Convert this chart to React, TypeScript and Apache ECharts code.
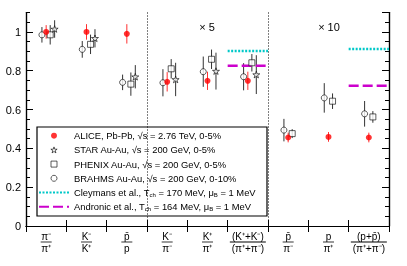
import React, { useEffect, useRef } from 'react';
import * as echarts from 'echarts';

const FONT = '"Liberation Sans", Arial, Helvetica, sans-serif';

// x-axis category labels (fractions)
const numerators = ['π⁻', 'K⁻', 'p̄', 'K⁻', 'K⁺', '(K⁺+K⁻)', 'p̄', 'p', '(p+p̄)'];
const denominators = ['π⁺', 'K⁺', 'p', 'π⁻', 'π⁺', '(π⁺+π⁻)', 'π⁻', 'π⁺', '(π⁺+π⁻)'];
const categories = numerators.map((n, i) => `${n}/${denominators[i]}`);

// series values and errors (ratios; kaon ratios ×5, proton ratios ×10)
const aliceValues = [1.0, 1.0, 0.99, 0.743, 0.748, 0.748, 0.456, 0.459, 0.456];
const aliceErrors = [0.035, 0.04, 0.05, 0.05, 0.047, 0.047, 0.025, 0.025, 0.025];
const starValues = [1.015, 0.967, 0.769, 0.755, 0.798, 0.78, null, null, null];
const starErrors = [0.045, 0.047, 0.06, 0.086, 0.095, 0.1, null, null, null];
const phenixValues = [0.985, 0.936, 0.731, 0.81, 0.859, 0.841, 0.476, 0.643, 0.562];
const phenixErrors = [0.05, 0.05, 0.06, 0.05, 0.05, 0.045, 0.023, 0.04, 0.03];
const brahmsValues = [0.985, 0.91, 0.74, 0.738, 0.795, 0.769, 0.494, 0.66, 0.578];
const brahmsErrors = [0.04, 0.043, 0.04, 0.07, 0.078, 0.07, 0.058, 0.076, 0.066];
const cleymansValues = [null, null, null, null, null, 0.902, null, null, 0.912];
const andronicValues = [null, null, null, null, null, 0.826, null, null, 0.722];

const NAMES = {
  alice: 'ALICE, Pb-Pb, √s = 2.76 TeV, 0-5%',
  star: 'STAR Au-Au, √s = 200 GeV, 0-5%',
  phenix: 'PHENIX Au-Au, √s = 200 GeV, 0-5%',
  brahms: 'BRAHMS Au-Au, √s = 200 GeV, 0-10%',
  cleymans: 'Cleymans et al., Tch = 170 MeV, μB = 1 MeV',
  andronic: 'Andronic et al., Tch = 164 MeV, μB = 1 MeV',
};
const RICH_NAMES: Record<string, string> = {
  [NAMES.cleymans]: 'Cleymans et al., T{sub|ch} = 170 MeV, μ{sub|B} = 1 MeV',
  [NAMES.andronic]: 'Andronic et al., T{sub|ch} = 164 MeV, μ{sub|B} = 1 MeV',
};

const STAR_PATH =
  'path://M0,-10L2.245,-3.09L9.51,-3.09L3.633,1.18L5.878,8.09L0,3.82L-5.878,8.09L-3.633,1.18L-9.51,-3.09L-2.245,-3.09Z';
const SQUARE_PATH = 'path://M0,0L10,0L10,10L0,10Z';

const OFF = { brahms: -0.105, alice: 0, phenix: 0.1, star: 0.21 };

function points(values: (number | null)[], off: number) {
  const out: number[][] = [];
  values.forEach((v, i) => {
    if (v != null) out.push([i + 0.5 + off, v]);
  });
  return out;
}
function bars(values: (number | null)[], errs: (number | null)[], off: number) {
  const out: number[][] = [];
  values.forEach((v, i) => {
    if (v != null && errs[i] != null) out.push([i + 0.5 + off, v, errs[i] as number]);
  });
  return out;
}
function modelLine(values: (number | null)[]) {
  const out: (number | null)[][] = [];
  values.forEach((v, i) => {
    if (v != null) {
      out.push([i, v], [i + 1, v], [i + 1, null]);
    }
  });
  return out;
}

function errSeries(id: string, values: (number | null)[], errs: (number | null)[], off: number, color: string) {
  return {
    type: 'custom',
    name: 'err-' + id,
    xAxisIndex: 1,
    yAxisIndex: 0,
    silent: true,
    z: 3,
    encode: { x: 0, y: 1 },
    data: bars(values, errs, off),
    renderItem: (_p: any, api: any) => {
      const x = api.value(0);
      const y = api.value(1);
      const e = api.value(2);
      const a = api.coord([x, y + e]);
      const b = api.coord([x, y - e]);
      return {
        type: 'line',
        shape: { x1: a[0], y1: a[1], x2: b[0], y2: b[1] },
        style: { stroke: color, lineWidth: 1 },
      };
    },
  };
}

export default function App() {
  const ref = useRef<HTMLDivElement>(null);
  useEffect(() => {
    if (!ref.current) return;
    const chart = echarts.init(ref.current, undefined, { renderer: 'svg' });
    const axisLine = { show: true, lineStyle: { color: '#000', width: 1.2 } };
    const hiddenSymbol = { opacity: 0, color: 'transparent', borderWidth: 0 };
    const option: any = {
      animation: false,
      textStyle: { fontFamily: FONT },
      grid: { left: 26, right: 18, top: 12.5, bottom: 40, containLabel: false },
      xAxis: [
        {
          type: 'category',
          data: categories,
          position: 'bottom',
          boundaryGap: true,
          axisLine,
          axisTick: { show: true, inside: true, length: 6, interval: 0, lineStyle: { color: '#000' } },
          splitLine: { show: false },
          axisLabel: {
            interval: 0,
            margin: 5,
            color: '#000',
            formatter: (_v: string, i: number) =>
              `{n|${numerators[i]}}\n{${numerators[i].length > 3 ? 'lw' : 'ls'}| }\n{d|${denominators[i]}}`,
            rich: {
              n: { fontSize: 10, lineHeight: 10, fontFamily: FONT, color: '#000', align: 'center' },
              d: { fontSize: 10, lineHeight: 11, fontFamily: FONT, color: '#000', align: 'center' },
              ls: { width: 11, height: 0.8, lineHeight: 2, fontSize: 1, backgroundColor: '#000', align: 'center' },
              lw: { width: 36, height: 0.8, lineHeight: 2, fontSize: 1, backgroundColor: '#000', align: 'center' },
            },
          },
        },
        {
          type: 'value',
          min: 0,
          max: 9,
          interval: 3,
          position: 'bottom',
          axisLine: { show: false },
          axisTick: { show: false },
          axisLabel: { show: false },
          splitLine: { show: true, lineStyle: { type: [1, 2], color: '#000', width: 1 } },
        },
        {
          type: 'category',
          data: categories,
          position: 'top',
          boundaryGap: true,
          axisLine,
          axisTick: { show: true, inside: true, length: 6, interval: 0, lineStyle: { color: '#000' } },
          axisLabel: { show: false },
          splitLine: { show: false },
        },
      ],
      yAxis: [
        {
          type: 'value',
          position: 'left',
          min: 0,
          max: 1.1,
          interval: 0.2,
          axisLine,
          axisTick: { show: true, inside: true, length: 7, lineStyle: { color: '#000' } },
          axisLabel: { color: '#000', fontSize: 11, fontFamily: FONT, margin: 5, showMaxLabel: false },
          splitLine: { show: false },
        },
        {
          type: 'value',
          position: 'left',
          min: 0,
          max: 1.1,
          interval: 0.05,
          axisLine,
          axisTick: { show: true, inside: true, length: 4, lineStyle: { color: '#000' } },
          axisLabel: { show: false },
          splitLine: { show: false },
        },
        {
          type: 'value',
          position: 'right',
          min: 0,
          max: 1.1,
          interval: 0.2,
          axisLine,
          axisTick: { show: true, inside: true, length: 7, lineStyle: { color: '#000' } },
          axisLabel: { show: false },
          splitLine: { show: false },
        },
        {
          type: 'value',
          position: 'right',
          min: 0,
          max: 1.1,
          interval: 0.05,
          axisLine,
          axisTick: { show: true, inside: true, length: 4, lineStyle: { color: '#000' } },
          axisLabel: { show: false },
          splitLine: { show: false },
        },
      ],
      legend: {
        data: [
          { name: NAMES.alice },
          { name: NAMES.star },
          { name: NAMES.phenix },
          { name: NAMES.brahms },
          { name: NAMES.cleymans, itemStyle: hiddenSymbol },
          { name: NAMES.andronic, itemStyle: hiddenSymbol },
        ],
        orient: 'vertical',
        left: 38,
        top: 129.7,
        padding: 0,
        itemWidth: 30,
        itemHeight: 6,
        itemGap: 2.2,
        selectedMode: false,
        itemStyle: { borderWidth: 0.8 },
        formatter: (name: string) => RICH_NAMES[name] || name,
        textStyle: {
          fontSize: 9.4,
          fontFamily: FONT,
          color: '#000',
          lineHeight: 12,
          rich: {
            sub: { fontSize: 6, fontFamily: FONT, color: '#000', padding: [5, 0, 0, 0], lineHeight: 12 },
          },
        },
      },
      graphic: [
        {
          type: 'rect',
          shape: { x: 37, y: 127, width: 230, height: 89 },
          style: { fill: 'none', stroke: '#000', lineWidth: 1.2 },
          z: 10,
        },
        {
          type: 'text',
          x: 207,
          y: 27,
          style: { text: '× 5', fontSize: 11, fontFamily: FONT, fill: '#000', align: 'center', verticalAlign: 'middle' },
        },
        {
          type: 'text',
          x: 329,
          y: 27,
          style: { text: '× 10', fontSize: 11, fontFamily: FONT, fill: '#000', align: 'center', verticalAlign: 'middle' },
        },
      ],
      series: [
        errSeries('brahms', brahmsValues, brahmsErrors, OFF.brahms, '#333'),
        errSeries('alice', aliceValues, aliceErrors, OFF.alice, '#ff3030'),
        errSeries('phenix', phenixValues, phenixErrors, OFF.phenix, '#333'),
        errSeries('star', starValues, starErrors, OFF.star, '#333'),
        {
          name: NAMES.cleymans,
          type: 'line',
          xAxisIndex: 1,
          yAxisIndex: 0,
          data: modelLine(cleymansValues),
          symbol: 'none',
          connectNulls: false,
          lineStyle: { color: '#00c8c8', width: 2.5, type: [2, 1.5] },
          itemStyle: { color: '#00c8c8' },
          z: 4,
        },
        {
          name: NAMES.andronic,
          type: 'line',
          xAxisIndex: 1,
          yAxisIndex: 0,
          data: modelLine(andronicValues),
          symbol: 'none',
          connectNulls: false,
          lineStyle: { color: '#cc00cc', width: 2.5, type: [10, 4] },
          itemStyle: { color: '#cc00cc' },
          z: 4,
        },
        {
          name: NAMES.brahms,
          type: 'scatter',
          xAxisIndex: 1,
          yAxisIndex: 0,
          data: points(brahmsValues, OFF.brahms),
          symbol: 'circle',
          symbolSize: 6,
          itemStyle: { color: '#fff', borderColor: '#000', borderWidth: 0.8 },
          z: 5,
        },
        {
          name: NAMES.phenix,
          type: 'scatter',
          xAxisIndex: 1,
          yAxisIndex: 0,
          data: points(phenixValues, OFF.phenix),
          symbol: SQUARE_PATH,
          symbolSize: 6,
          symbolKeepAspect: true,
          itemStyle: { color: '#fff', borderColor: '#000', borderWidth: 0.8 },
          z: 5,
        },
        {
          name: NAMES.star,
          type: 'scatter',
          xAxisIndex: 1,
          yAxisIndex: 0,
          data: points(starValues, OFF.star),
          symbol: STAR_PATH,
          symbolSize: 7,
          symbolKeepAspect: true,
          itemStyle: { color: '#fff', borderColor: '#000', borderWidth: 0.8 },
          z: 5,
        },
        {
          name: NAMES.alice,
          type: 'scatter',
          xAxisIndex: 1,
          yAxisIndex: 0,
          data: points(aliceValues, OFF.alice),
          symbol: 'circle',
          symbolSize: 6,
          itemStyle: { color: '#ff0000' },
          z: 6,
        },
      ],
    };
    chart.setOption(option);
    return () => chart.dispose();
  }, []);
  return <div ref={ref} style={{ position: 'fixed', left: 0, top: 0, width: 407, height: 266 }} />;
}
